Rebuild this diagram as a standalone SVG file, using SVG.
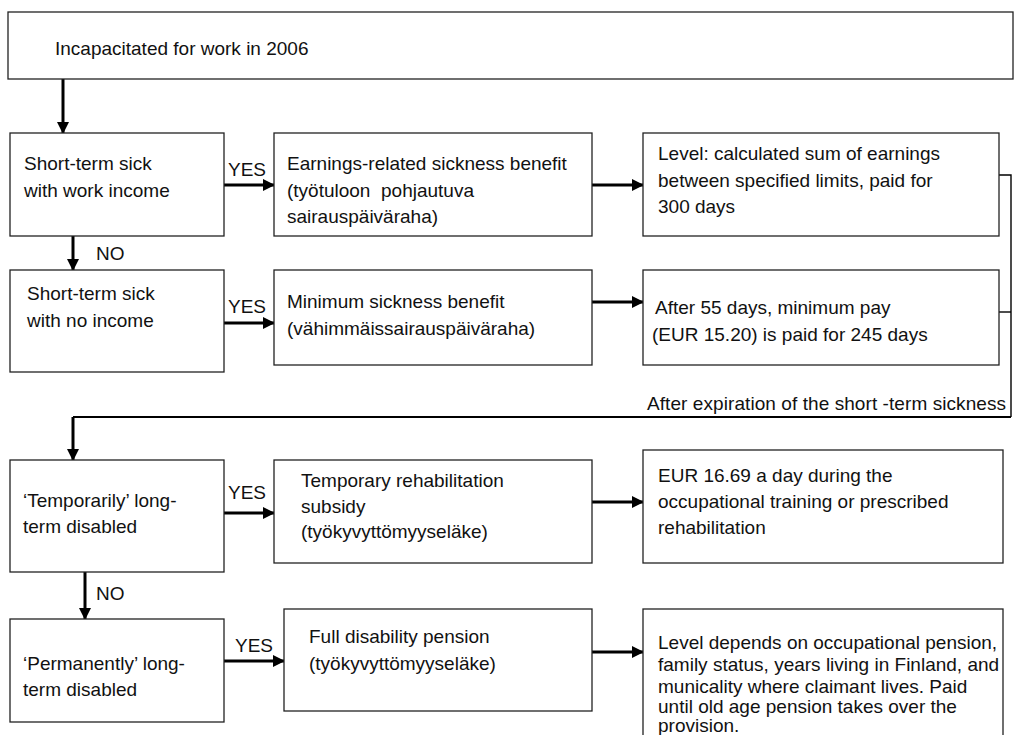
<svg xmlns="http://www.w3.org/2000/svg" width="1014" height="735" viewBox="0 0 1014 735">
  <style>
    .box { fill: #fff; stroke: #222; stroke-width: 1.3; }
    .t { font-family: "Liberation Sans", Arial, sans-serif; font-size: 19px; fill: #111; }
    .arr { fill: none; stroke: #000; stroke-width: 3; }
    .thin { fill: none; stroke: #000; stroke-width: 1.4; }
    .mid { fill: none; stroke: #000; stroke-width: 2; }
  </style>
  <defs>
    <marker id="head" markerUnits="userSpaceOnUse" markerWidth="12" markerHeight="12" viewBox="0 0 12 12" refX="11" refY="6" orient="auto">
      <path d="M0,0 L12,6 L0,12 Z" fill="#000"/>
    </marker>
  </defs>
  <rect width="1014" height="735" fill="#fff"/>

  <!-- connectors and their labels -->
  <g id="connectors">
    <path class="arr" d="M63,79 V133" marker-end="url(#head)"/>
    <path class="arr" d="M224,185 H274" marker-end="url(#head)"/>
    <path class="arr" d="M592,185 H643" marker-end="url(#head)"/>
    <path class="arr" d="M73,236 V270" marker-end="url(#head)"/>
    <path class="arr" d="M224,323 H274" marker-end="url(#head)"/>
    <path class="arr" d="M592,302 H643" marker-end="url(#head)"/>
    <path class="thin" d="M999,175 H1011 V417"/>
    <path class="thin" d="M999,312 H1011"/>
    <path class="mid" d="M1011,417 H73"/>
    <path class="arr" d="M73,417 V460" marker-end="url(#head)"/>
    <path class="arr" d="M224,513 H274" marker-end="url(#head)"/>
    <path class="arr" d="M592,502 H643" marker-end="url(#head)"/>
    <path class="arr" d="M85,572 V619" marker-end="url(#head)"/>
    <path class="arr" d="M224,661 H284" marker-end="url(#head)"/>
    <path class="arr" d="M592,652 H643" marker-end="url(#head)"/>
    <text class="t" x="228" y="176">YES</text>
    <text class="t" x="96" y="260">NO</text>
    <text class="t" x="228" y="313">YES</text>
    <text class="t" x="647" y="410" textLength="359">After expiration of the short -term sickness</text>
    <text class="t" x="228" y="499">YES</text>
    <text class="t" x="96" y="600">NO</text>
    <text class="t" x="235" y="652">YES</text>
  </g>

  <g id="start">
    <rect class="box" x="8" y="12" width="1005" height="67"/>
    <text class="t" x="55" y="55">Incapacitated for work in 2006</text>
  </g>

  <g id="short-term-income">
    <rect class="box" x="10" y="133" width="214" height="103"/>
    <text class="t" x="24" y="170">Short-term sick</text>
    <text class="t" x="24" y="197">with work income</text>
  </g>
  <g id="earnings-benefit">
    <rect class="box" x="274" y="133" width="318" height="103"/>
    <text class="t" x="287" y="170">Earnings-related sickness benefit</text>
    <text class="t" x="287" y="197">(työtuloon&#160; pohjautuva</text>
    <text class="t" x="287" y="223">sairauspäiväraha)</text>
  </g>
  <g id="earnings-level">
    <rect class="box" x="643" y="133" width="356" height="103"/>
    <text class="t" x="658" y="160">Level: calculated sum of earnings</text>
    <text class="t" x="658" y="187">between specified limits, paid for</text>
    <text class="t" x="658" y="213">300 days</text>
  </g>

  <g id="short-term-no-income">
    <rect class="box" x="10" y="270" width="214" height="102"/>
    <text class="t" x="27" y="300">Short-term sick</text>
    <text class="t" x="27" y="327">with no income</text>
  </g>
  <g id="minimum-benefit">
    <rect class="box" x="274" y="270" width="318" height="95"/>
    <text class="t" x="287" y="308">Minimum sickness benefit</text>
    <text class="t" x="287" y="335">(vähimmäissairauspäiväraha)</text>
  </g>
  <g id="minimum-level">
    <rect class="box" x="643" y="270" width="356" height="95"/>
    <text class="t" x="655" y="314">After 55 days, minimum pay</text>
    <text class="t" x="652" y="341">(EUR 15.20) is paid for 245 days</text>
  </g>

  <g id="temporarily-disabled">
    <rect class="box" x="10" y="460" width="214" height="112"/>
    <text class="t" x="23" y="507">‘Temporarily’ long-</text>
    <text class="t" x="23" y="533">term disabled</text>
  </g>
  <g id="rehabilitation-subsidy">
    <rect class="box" x="274" y="460" width="318" height="103"/>
    <text class="t" x="301" y="487">Temporary rehabilitation</text>
    <text class="t" x="301" y="513">subsidy</text>
    <text class="t" x="301" y="538">(työkyvyttömyyseläke)</text>
  </g>
  <g id="rehabilitation-level">
    <rect class="box" x="643" y="450" width="360" height="113"/>
    <text class="t" x="658" y="482">EUR 16.69 a day during the</text>
    <text class="t" x="658" y="508">occupational training or prescribed</text>
    <text class="t" x="658" y="534">rehabilitation</text>
  </g>

  <g id="permanently-disabled">
    <rect class="box" x="10" y="619" width="214" height="103"/>
    <text class="t" x="23" y="670">‘Permanently’ long-</text>
    <text class="t" x="23" y="696">term disabled</text>
  </g>
  <g id="disability-pension">
    <rect class="box" x="284" y="609" width="308" height="102"/>
    <text class="t" x="309" y="643">Full disability pension</text>
    <text class="t" x="309" y="670">(työkyvyttömyyseläke)</text>
  </g>
  <g id="pension-level">
    <rect class="box" x="643" y="609" width="360" height="140"/>
    <text class="t" x="658" y="649">Level depends on occupational pension,</text>
    <text class="t" x="658" y="671">family status, years living in Finland, and</text>
    <text class="t" x="658" y="693">municality where claimant lives. Paid</text>
    <text class="t" x="658" y="713">until old age pension takes over the</text>
    <text class="t" x="658" y="732">provision.</text>
  </g>
</svg>
